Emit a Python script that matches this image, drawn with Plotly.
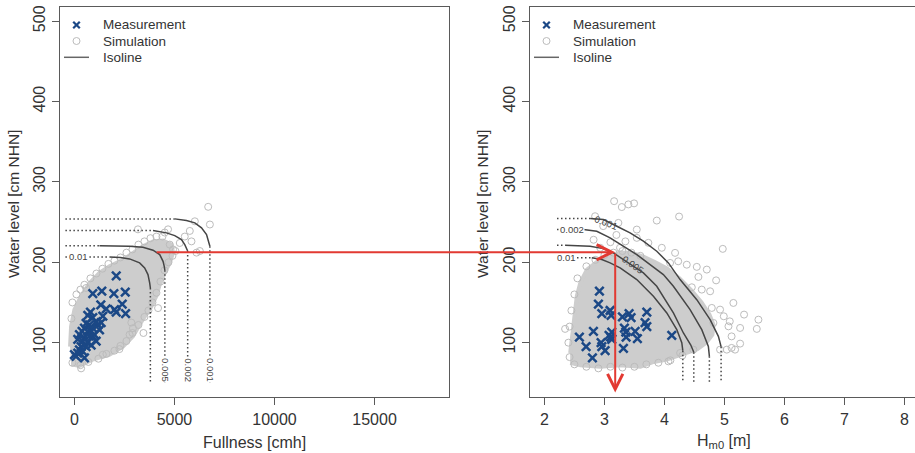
import plotly.graph_objects as go

W, H = 915, 453
FONT = "Liberation Sans, Arial, sans-serif"
NAVY = "#1b4886"
CIRC = "rgb(188,188,188)"
FILL = "rgb(205,205,205)"
ISO = "#454545"
RED = "#e23a32"

# ---------------- left panel: Fullness [cmh] vs water level ----------------
meas_full_x = [2090, 918, 1370, 1972, 2541, 1320, 1588, 2006, 2390, 2090, 2558, 1421, 802, 669, 918,
               1087, 752, 502, 385, 669, 918, 1170, 1337, 1254, 1003, 752, 502, 418, 669, 335,
               251, 167, 418, 84, 502, 918, 836, 1087, 585, 251, 167, 836, 585, 0]
meas_full_y = [183, 161, 164, 161, 163, 147, 142, 141, 148, 138, 136, 133, 138, 134, 131,
               126, 122, 118, 114, 114, 118, 122, 125, 116, 110, 108, 106, 102, 100, 95,
               91, 87, 89, 83, 81, 108, 97, 102, 124, 110, 104, 114, 95, 85]

sim_full_core_x = [-167, 251, 918, 1755, 2424, 2925, 3425, 3845, 4096, 4263, 4513, 4764, 4930, 4848,
                   4430, 3928, 3425, 2925, 2424, 1755, 1254, 752, 335, 0, -167, -217]
sim_full_core_y = [73, 71, 79, 85, 95, 108, 129, 145, 158, 172, 187, 199, 212, 222,
                   227, 226, 220, 212, 203, 195, 187, 174, 158, 141, 120, 95]

sim_full_x = [6685, 6770, 6018, 5767, 5516, 5850, 5265, 6269, 6102, 4764, 4930, 4513, 4180, 2843,
              2925, 2758, 3175, 4680, 1420, 335, 585,
              -100, 300, 700, 1200, 1600, 2000, 2300, 2600, 2900, 3200, 3500, 3700, 3900, 4100,
              4300, 4500, 4700, 4900,
              -150, -100, 100, 300, 500, 800, 1100, 1400, 1700, 2000, 2300, 2600, 2900, 3200,
              3500, 3800, 4100, 4400, 5050, 3450, 2250]
sim_full_y = [269, 247, 251, 239, 232, 226, 224, 214, 212, 222, 216, 237, 143, 125,
              118, 110, 241, 241, 85, 68, 168,
              75, 72, 76, 80, 86, 90, 96, 102, 112, 122, 132, 140, 150, 162,
              176, 190, 200, 208,
              130, 150, 160, 166, 172, 180, 186, 192, 198, 202, 206, 212, 216, 222,
              226, 230, 232, 232, 214, 112, 92]

# isolines (solid part)
iso_levels = ["0.01", "0.005", "0.002", "0.001"]
iso_full_x = [[1755, 2300, 2758, 3260, 3511, 3676, 3761, 3796],
              [1254, 2758, 3425, 3928, 4263, 4430, 4490, 4520],
              [3928, 4597, 5015, 5351, 5516, 5640, 5660],
              [5015, 5600, 6018, 6352, 6603, 6720, 6770]]
iso_full_y = [[206.7, 206, 204.2, 199.2, 193, 184.7, 174.3, 168],
              [220.5, 220, 218.7, 215, 209.6, 201.2, 195, 190],
              [239.5, 236.6, 233.2, 228.3, 222, 216, 214],
              [254, 252, 249, 242.8, 234.5, 226.2, 220]]
iso_full_xstart = -450
iso_full_ybottom = 50

full_ticks = [0, 5000, 10000, 15000]
full_ticklabels = ["0", "5000", "10000", "15000"]

# ---------------- right panel: Hm0 [m] vs water level ----------------
meas_hs_x = [2.917, 2.90, 2.957, 3.095, 3.112, 3.30, 3.412, 3.445, 3.707, 3.678, 3.707, 4.123, 2.583,
             2.817, 2.695, 2.80, 2.945, 2.957, 3.012, 3.078, 3.123, 3.123, 3.107, 3.333, 3.357,
             3.362, 3.317, 3.512, 3.55]
meas_hs_y = [164, 148, 136, 140, 134, 132, 136, 131, 138, 125, 120, 109, 107,
             114, 95, 81, 100, 95, 90, 109, 113, 104, 107, 118, 113,
             107, 93, 114, 105]

sim_hs_core_x = [2.43, 2.6, 2.93, 3.26, 3.6, 3.82, 4.04, 4.2, 4.37, 4.55, 4.7, 4.8, 4.82, 4.75,
                 4.62, 4.45, 4.25, 4.05, 3.85, 3.65, 3.45, 3.25, 3.04, 2.87, 2.71, 2.6, 2.54,
                 2.51, 2.48, 2.46, 2.43]
sim_hs_core_y = [75, 72, 70, 72, 70, 76, 79, 83, 88, 92, 100, 110, 122, 135,
                 150, 165, 180, 192, 200, 207, 212, 212, 207, 200, 191, 175, 158,
                 141, 120, 104, 87]

sim_hs_x = [3.162, 3.29, 3.40, 3.495, 3.873, 4.245, 4.973, 3.54, 3.54, 3.733, 3.957, 4.178, 4.095,
            4.23, 4.373, 4.54, 4.707, 4.567, 4.862, 4.457, 4.623, 4.762, 5.15, 5.328, 5.567,
            5.54, 5.262, 5.09, 4.99, 5.12, 5.068, 5.262, 5.12, 4.928, 4.817, 4.79, 4.928,
            4.067, 4.262, 4.483, 2.345, 2.845, 3.233, 5.04, 5.178,
            2.7, 2.85, 3.0, 3.15, 3.3, 3.45, 3.6, 2.55, 2.5, 2.45, 2.42, 2.40, 2.42,
            2.5, 2.7, 2.9, 3.1, 3.3, 3.5, 3.7, 3.9, 4.1, 4.3,
            2.98, 3.2, 2.82, 3.26, 2.93, 3.35, 3.1]
sim_hs_y = [276, 268.7, 272, 273.3, 251.9, 256.9, 216.7, 240.7, 230.4, 224.2, 218, 211.7, 199.2,
            201.2, 197, 194.3, 190.9, 181.8, 177.5, 168.9, 166, 163.9, 149.4, 134.9, 128.6,
            117.1, 118.3, 126.5, 132.8, 107.8, 120.3, 98.8, 93.4, 91.3, 124.5, 143.2, 141.1,
            76.7, 87.2, 91.3, 117.1, 257.3, 249, 91.3, 91.3,
            195, 203, 209, 212, 214, 212, 208, 180, 160, 140, 120, 100, 82,
            73, 70, 68, 70, 69, 70, 73, 75, 78, 84,
            245, 234, 228, 218, 218, 226, 225]

iso_hs_x = [[2.79, 2.957, 3.095, 3.262, 3.54, 3.817, 4.04, 4.207, 4.29, 4.307],
            [2.345, 2.762, 2.983, 3.15, 3.317, 3.483, 3.65, 3.873, 4.15, 4.317, 4.44, 4.49],
            [2.65, 2.873, 3.095, 3.317, 3.54, 3.762, 3.983, 4.15, 4.428, 4.623, 4.733, 4.75],
            [2.762, 2.983, 3.207, 3.428, 3.65, 3.873, 4.067, 4.262, 4.54, 4.762, 4.90, 4.945]]
iso_hs_y = [[205.5, 203.4, 199.2, 193, 178.5, 157.7, 137, 116.2, 100, 90],
            [221.2, 220, 217, 211.7, 203.4, 195, 186.8, 170.1, 137, 112, 97, 88],
            [240.7, 238.6, 230.4, 220, 209.6, 197.1, 184.7, 170.1, 141.1, 116.2, 95.4, 83],
            [254.4, 253.2, 244.8, 236.6, 226.2, 213.7, 199.2, 178.5, 153.5, 128.6, 107.8, 95]]
iso_hs_xstart = 2.21
iso_hs_ybottom = 50

hs_ticks = [2, 3, 4, 5, 6, 7, 8]
level_ticks = [100, 200, 300, 400, 500]

# reading example (red arrow)
read_level = 212.5
read_full = 4010
read_hs = 3.18

# ---------------- figure ----------------
fig = go.Figure()

def add_panel(xa, ya, core_x, core_y, sx, sy, isox, isoy, xstart, ybot, mx, my):
    fig.add_trace(go.Scatter(x=core_x, y=core_y, xaxis=xa, yaxis=ya, mode="lines", fill="toself",
                             fillcolor=FILL, line=dict(color=FILL, width=4), hoverinfo="skip"))
    fig.add_trace(go.Scatter(x=sx, y=sy, xaxis=xa, yaxis=ya, mode="markers",
                             marker=dict(symbol="circle-open", size=7, color=CIRC, line=dict(width=1))))
    for cx, cy in zip(isox, isoy):
        fig.add_trace(go.Scatter(x=cx, y=cy, xaxis=xa, yaxis=ya, mode="lines",
                                 line=dict(color=ISO, width=1.5)))
        fig.add_trace(go.Scatter(x=[xstart, cx[0]], y=[cy[0], cy[0]], xaxis=xa, yaxis=ya, mode="lines",
                                 line=dict(color=ISO, width=1.5, dash="1.5px,2.5px")))
        fig.add_trace(go.Scatter(x=[cx[-1], cx[-1]], y=[cy[-1], ybot], xaxis=xa, yaxis=ya, mode="lines",
                                 line=dict(color=ISO, width=1.5, dash="1.5px,2.5px")))
    fig.add_trace(go.Scatter(x=mx, y=my, xaxis=xa, yaxis=ya, mode="markers",
                             marker=dict(symbol="x-thin-open", size=8.5, color=NAVY, line=dict(width=2.5, color=NAVY))))

add_panel("x", "y", sim_full_core_x, sim_full_core_y, sim_full_x, sim_full_y,
          iso_full_x, iso_full_y, iso_full_xstart, iso_full_ybottom, meas_full_x, meas_full_y)
add_panel("x2", "y2", sim_hs_core_x, sim_hs_core_y, sim_hs_x, sim_hs_y,
          iso_hs_x, iso_hs_y, iso_hs_xstart, iso_hs_ybottom, meas_hs_x, meas_hs_y)

def px(x):
    return x / W

def py(y):
    return 1 - y / H

ydom = [py(397.3), py(6.7)]
axcol = "#5a5a5a"
tickfont = dict(family=FONT, size=16, color="#333")
common = dict(showgrid=False, zeroline=False, showline=True, linecolor=axcol, linewidth=1.3,
              ticks="outside", ticklen=7, tickcolor=axcol, tickwidth=1.2, tickfont=tickfont)

fig.update_layout(
    width=W, height=H, autosize=False, margin=dict(l=0, r=0, t=0, b=0),
    paper_bgcolor="white", plot_bgcolor="white", showlegend=False, hovermode=False,
    xaxis=dict(domain=[px(60), px(449)], range=[-720, 18720], tickvals=full_ticks,
               ticktext=full_ticklabels, mirror=True, anchor="y", **common),
    yaxis=dict(domain=ydom, range=[32, 518], tickvals=level_ticks, tickangle=-90,
               mirror=True, anchor="x", **common),
    xaxis2=dict(domain=[px(530), 1], range=[1.76, 8.177], tickvals=hs_ticks,
                mirror=True, anchor="y2", **common),
    yaxis2=dict(domain=ydom, range=[32, 518], tickvals=level_ticks, tickangle=-90,
                mirror=False, anchor="x2", **common),
)

ann = []
shapes = []
tf = dict(family=FONT, size=16, color="#333")
ann.append(dict(x=px(254.5), y=py(442.5), xref="paper", yref="paper", text="Fullness [cmh]",
                showarrow=False, font=tf, xanchor="center", yanchor="middle"))
ann.append(dict(x=px(724), y=py(441), xref="paper", yref="paper", text="H<sub>m0</sub> [m]",
                showarrow=False, font=tf, xanchor="center", yanchor="middle"))
for xx in (13, 482):
    ann.append(dict(x=px(xx), y=py(204), xref="paper", yref="paper", text="Water level [cm NHN]",
                    showarrow=False, font=dict(family=FONT, size=15.5, color="#333"), textangle=-90,
                    xanchor="center", yanchor="middle"))

# legends
lf = dict(family=FONT, size=13.5, color="#333")
for x0 in (60, 530):
    sx = x0 + 16.5
    for yy, label in ((25, "Measurement"), (41, "Simulation"), (57.3, "Isoline")):
        ann.append(dict(x=px(x0 + 41), y=py(yy), xref="paper", yref="paper", text=label,
                        showarrow=False, font=lf, xanchor="left", yanchor="middle"))
    d = 3.3
    shapes.append(dict(type="line", xref="paper", yref="paper", x0=px(sx - d), x1=px(sx + d),
                       y0=py(25 - d), y1=py(25 + d), line=dict(color=NAVY, width=2.2)))
    shapes.append(dict(type="line", xref="paper", yref="paper", x0=px(sx - d), x1=px(sx + d),
                       y0=py(25 + d), y1=py(25 - d), line=dict(color=NAVY, width=2.2)))
    shapes.append(dict(type="circle", xref="paper", yref="paper", x0=px(sx - 3.5), x1=px(sx + 3.5),
                       y0=py(41 - 3.5), y1=py(41 + 3.5), line=dict(color=CIRC, width=1)))
    shapes.append(dict(type="line", xref="paper", yref="paper", x0=px(x0 + 4), x1=px(x0 + 29),
                       y0=py(57.3), y1=py(57.3), line=dict(color="#666", width=1.5)))

# isoline labels
isof = dict(family=FONT, size=9.5, color="#444")
ann.append(dict(x=225, y=iso_full_y[0][0], xref="x", yref="y", text="0.01", showarrow=False,
                font=isof, bgcolor="white", borderpad=0))
for i in (1, 2, 3):
    ann.append(dict(x=iso_full_x[i][-1], y=66, xref="x", yref="y", text=iso_levels[i], showarrow=False,
                    font=isof, bgcolor="white", borderpad=0, textangle=90))
ann.append(dict(x=2.37, y=iso_hs_y[0][0] + 1, xref="x2", yref="y2", text="0.01", showarrow=False,
                font=isof, bgcolor="white", borderpad=0))
ann.append(dict(x=2.46, y=iso_hs_y[2][0], xref="x2", yref="y2", text="0.002", showarrow=False,
                font=isof, bgcolor="white", borderpad=0))
ann.append(dict(x=3.02, y=249, xref="x2", yref="y2", text="0.001", showarrow=False,
                font=isof, textangle=20))
ann.append(dict(x=3.47, y=197, xref="x2", yref="y2", text="0.005", showarrow=False,
                font=isof, textangle=35))

# red reading arrows
ann.append(dict(x=read_hs, y=read_level, xref="x2", yref="y2", text="", showarrow=True,
                ax=-460, ay=0, arrowhead=5, arrowsize=1.5, arrowwidth=2, arrowcolor=RED, standoff=0))
ann.append(dict(x=read_hs, y=38, xref="x2", yref="y2", text="", showarrow=True,
                axref="x2", ayref="y2", ax=read_hs, ay=read_level,
                arrowhead=5, arrowsize=1.5, arrowwidth=2, arrowcolor=RED, standoff=0))

fig.update_layout(annotations=ann, shapes=shapes)
fig.write_html("out.html", config={"displayModeBar": False},
               post_script="document.body.style.margin='0';document.body.style.padding='0';")
